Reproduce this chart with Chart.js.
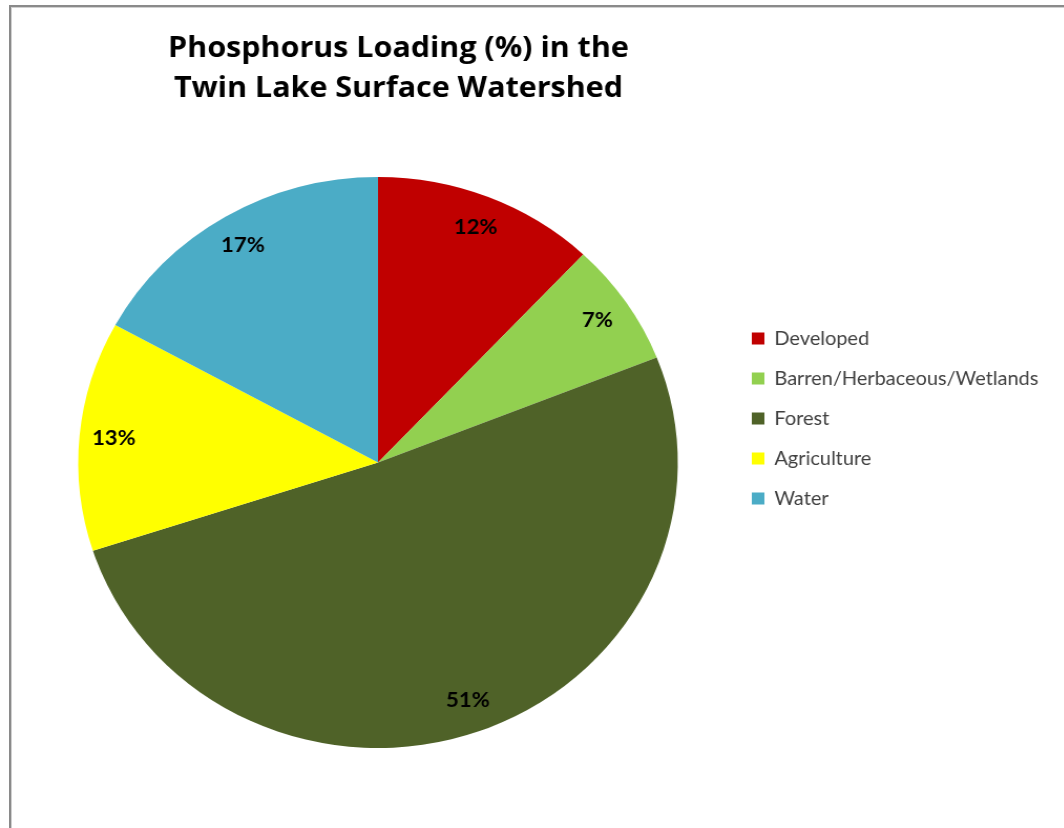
<!DOCTYPE html>
<html>
<head>
<meta charset="utf-8">
<script src="https://cdn.jsdelivr.net/npm/chart.js@4/dist/chart.umd.min.js"></script>
<style>
    html, body { margin: 0; padding: 0; background: #fff; overflow: hidden; }
    body { width: 1064px; height: 828px; position: relative; }
    /* the reference screenshot is stretched a little horizontally */
    #wrap { position: absolute; left: 0; top: 0; width: 1013px; height: 828px;
            transform: scaleX(1.05); transform-origin: 0 0; }
    #frame { position: absolute; left: 9px; top: 5px; width: 1100px; height: 900px;
             border-left: 2px solid #8a8a8a; border-top: 2px solid #8a8a8a;
             box-shadow: inset 1px 1px 0 #d0d0d0; }
</style>
</head>
<body>
<div id="frame"></div>
<div id="wrap"><canvas id="pieChart" width="1013" height="828"></canvas></div>
<script>
/* ------------------------------------------------------------
   Data
   ------------------------------------------------------------ */
const titleLines = ["Phosphorus Loading (%) in the", "Twin Lake Surface Watershed"];
const categories = ["Developed", "Barren/Herbaceous/Wetlands", "Forest", "Agriculture", "Water"];
const loading = [12, 7, 51, 13, 17];
const sliceColors = ["#C00000", "#92D050", "#4F6228", "#FFFF00", "#4BACC6"];

/* ------------------------------------------------------------
   Plugins: chart title + percent labels inside slices
   ------------------------------------------------------------ */
const titlePlugin = {
    id: "twoLineTitle",
    afterDraw(chart) {
        const ctx = chart.ctx;
        ctx.save();
        ctx.fillStyle = "#000";
        ctx.font = "bold 29px 'Open Sans'";
        ctx.textAlign = "center";
        ctx.textBaseline = "alphabetic";
        ctx.fillText(titleLines[0], 379.5, 56.5);
        ctx.fillText(titleLines[1], 379.5, 97);
        ctx.restore();
    }
};

const sliceLabels = {
    id: "sliceLabels",
    afterDatasetsDraw(chart) {
        const ctx = chart.ctx;
        const meta = chart.getDatasetMeta(0);
        ctx.save();
        ctx.fillStyle = "#000";
        ctx.font = "bold 21px Lato";
        ctx.textAlign = "center";
        ctx.textBaseline = "middle";
        meta.data.forEach((arc, i) => {
            const p = arc.getProps(["x", "y", "startAngle", "endAngle", "outerRadius"], true);
            const mid = (p.startAngle + p.endAngle) / 2;
            const r = p.outerRadius * 0.885;
            ctx.fillText(loading[i] + "%", p.x + Math.cos(mid) * r, p.y + Math.sin(mid) * r);
        });
        ctx.restore();
    }
};

/* ------------------------------------------------------------
   Chart
   ------------------------------------------------------------ */
Chart.defaults.font.family = "Lato";

const chart = new Chart(document.getElementById("pieChart"), {
    type: "pie",
    data: {
        labels: categories,
        datasets: [{
            data: loading,
            backgroundColor: sliceColors,
            borderWidth: 0,
            hoverOffset: 0
        }]
    },
    options: {
        responsive: false,
        animation: false,
        events: [],
        layout: { padding: { top: 177, bottom: 80, left: 25, right: 20 } },
        plugins: {
            tooltip: { enabled: false },
            title: { display: false },
            legend: {
                position: "right",
                align: "start",
                fullSize: false,
                title: { display: true, text: " ", font: { size: 10 }, padding: { top: 119, bottom: 0 } },
                labels: {
                    boxWidth: 12,
                    boxHeight: 12,
                    padding: 21,
                    color: "#404040",
                    font: { size: 19 }
                }
            }
        }
    }
    ,
    plugins: [sliceLabels, titlePlugin]
});

/* put the legend's left edge where the reference has it */
const legendLeft = 695;
chart.options.layout.padding.right = 1013 - legendLeft - chart.legend.width;
chart.update();
</script>
</body>
</html>
